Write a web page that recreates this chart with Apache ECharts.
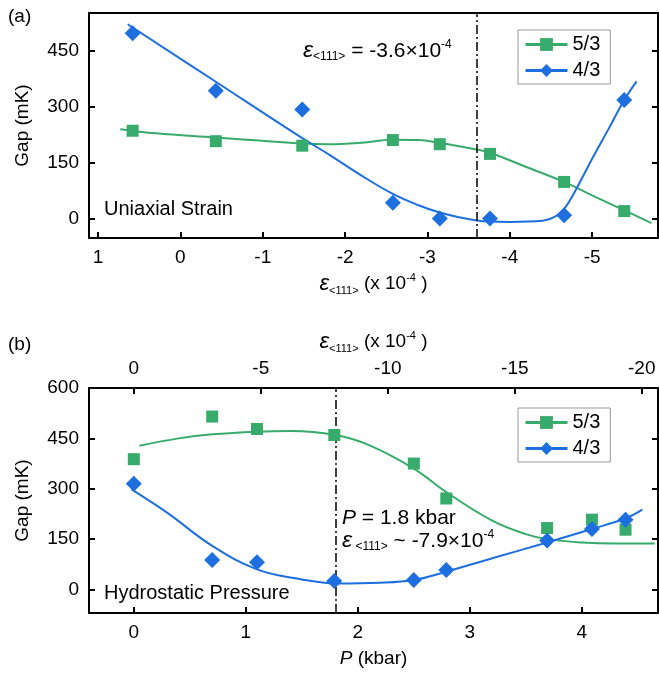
<!DOCTYPE html>
<html><head><meta charset="utf-8">
<script src="https://cdn.jsdelivr.net/npm/echarts@6/dist/echarts.min.js"></script>
<style>html,body{margin:0;padding:0;background:#fff}#c{width:659px;height:673px}</style>
</head><body><div id="c"></div>
<script>
// ---------- Panel (a): uniaxial strain ----------
const strainA = [0.58, -0.43, -1.48, -2.58, -3.15, -3.76, -4.66, -5.39];
const gap53A = [235, 207, 195, 210, 199, 173, 98, 20];
const gap43A = [496, 342, 292, 42, 0, 0, 9, 317];
const fit53AX = [0.73, 0.3, -0.43, -1.0, -1.48, -1.8, -2.2, -2.58, -2.9, -3.15, -3.4, -3.6, -3.76, -4.2, -4.66, -5.0, -5.39, -5.72];
const fit53AY = [239, 228, 217, 208, 201, 199, 203, 211, 210, 202, 193, 185, 176, 138, 98, 62, 22, -12];
const fit43AX = [0.64, -0.43, -1.48, -1.8, -2.2, -2.58, -2.9, -3.15, -3.4, -3.6, -3.76, -4.0, -4.4, -4.55, -4.66, -4.8, -5.0, -5.2, -5.39, -5.54];
const fit43AY = [520, 366, 215, 172, 115, 66, 35, 16, 3, -5, -8, -9, -6, 5, 26, 76, 160, 240, 317, 367];
const strainTicks = [1, 0, -1, -2, -3, -4, -5];
const gapTicksA = [0, 150, 300, 450];
const strainMarker = -3.6;

// ---------- Panel (b): hydrostatic pressure ----------
const pressureB = [0, 0.70, 1.10, 1.79, 2.50, 2.79, 3.69, 4.09, 4.39];
const gap53B = [388, 515, 478, 460, 375, 271, 183, 208, 178];
const gap43B = [315, 88, 81, 25, 28, 58, 146, 180, 208];
const fit53BX = [0.05, 0.4, 0.7, 1.1, 1.4, 1.8, 2.1, 2.5, 2.79, 3.2, 3.5, 3.69, 4.0, 4.3, 4.65];
const fit53BY = [428, 450, 462, 470, 472, 460, 430, 360, 290, 205, 165, 150, 140, 137, 137];
const fit43BX = [-0.02, 0.3, 0.7, 1.1, 1.5, 1.8, 2.2, 2.5, 2.79, 3.2, 3.69, 4.09, 4.39, 4.54];
const fit43BY = [298, 228, 130, 60, 30, 18, 20, 28, 53, 93, 140, 180, 212, 238];
const pressureTicks = [0, 1, 2, 3, 4];
const epsTicksB = [0, -5, -10, -15, -20];
const gapTicksB = [0, 150, 300, 450, 600];
const pressureMarker = 1.8;
const epsPerKbar = -4.41;

const GREEN = '#37ab6b';
const BLUE = '#1d6fdf';
const FONT = 'Liberation Sans';
const zip = (a, b) => a.map((v, i) => [v, b[i]]);

const pMin = -0.4, pMax = 4.68;

// rich styles for axis names (ECharts label styles)
const richAxis = {
  e: { fontSize: 22, fontStyle: 'italic', fontFamily: FONT, color: '#000', lineHeight: 24 },
  sub: { fontSize: 11, fontFamily: FONT, color: '#000', lineHeight: 11, verticalAlign: 'bottom' },
  t: { fontSize: 19, fontFamily: FONT, color: '#000', lineHeight: 24 },
  sup: { fontSize: 11, fontFamily: FONT, color: '#000', lineHeight: 11, verticalAlign: 'top' },
  p: { fontSize: 19, fontStyle: 'italic', fontFamily: FONT, color: '#000', lineHeight: 24 }
};
// rich styles for graphic texts (zrender styles use font strings)
const richG = {
  e: { font: 'italic 23px "Liberation Sans"', fill: '#000', lineHeight: 24 },
  sub: { font: '12px "Liberation Sans"', fill: '#000', lineHeight: 11, verticalAlign: 'bottom' },
  t: { font: '21px "Liberation Sans"', fill: '#000', lineHeight: 24 },
  sup: { font: '12px "Liberation Sans"', fill: '#000', lineHeight: 12, verticalAlign: 'top' },
  p: { font: 'italic 21px "Liberation Sans"', fill: '#000', lineHeight: 24 }
};
const epsName = '{e|ε}{sub|<111>}{t| (x 10}{sup|-4}{t| )}';

function frameAxis(extra) {
  return Object.assign({
    type: 'value',
    axisLine: { show: true, onZero: false, lineStyle: { color: '#000', width: 2 } },
    axisTick: { show: false },
    axisLabel: { show: false },
    splitLine: { show: false }
  }, extra);
}
function tickAxis(ticks, showLabels, extra) {
  return Object.assign({
    type: 'value',
    axisLine: { show: true, onZero: false, lineStyle: { color: '#000', width: 2 } },
    axisTick: { show: true, inside: true, length: 6, lineStyle: { color: '#000', width: 2 }, customValues: ticks },
    axisLabel: { show: showLabels, customValues: ticks, fontFamily: FONT, fontSize: 19, color: '#000', margin: 10 },
    splitLine: { show: false }
  }, extra);
}

const legendBase = {
  data: ['5/3', '4/3'], orient: 'vertical', left: 518, itemWidth: 42, itemHeight: 16, itemGap: 5,
  padding: [4, 10, 3, 6], borderColor: '#999', borderWidth: 1, backgroundColor: '#fff',
  lineStyle: { width: 3 },
  textStyle: { fontFamily: FONT, fontSize: 20, color: '#000', lineHeight: 21 }, selectedMode: false
};

const option = {
  animation: false,
  backgroundColor: '#fff',
  grid: [
    { left: 89, right: 1, top: 13, bottom: 435 },
    { left: 89, right: 1, top: 388, bottom: 60 }
  ],
  xAxis: [
    tickAxis(strainTicks, true, { gridIndex: 0, position: 'bottom', inverse: true, min: -5.8, max: 1.11,
      name: epsName, nameLocation: 'middle', nameGap: 34, nameTextStyle: { rich: richAxis } }),
    frameAxis({ gridIndex: 0, position: 'top', inverse: true, min: -5.8, max: 1.11 }),
    tickAxis(pressureTicks, true, { gridIndex: 1, position: 'bottom', min: pMin, max: pMax,
      name: '{p|P}{t| (kbar)}', nameLocation: 'middle', nameGap: 34, nameTextStyle: { rich: richAxis } }),
    tickAxis(epsTicksB, true, { gridIndex: 1, position: 'top', inverse: true,
      min: pMax * epsPerKbar, max: pMin * epsPerKbar,
      name: epsName, nameLocation: 'middle', nameGap: 34, nameTextStyle: { rich: richAxis } })
  ],
  yAxis: [
    tickAxis(gapTicksA, true, { gridIndex: 0, position: 'left', min: -52, max: 550,
      name: 'Gap (mK)', nameLocation: 'middle', nameGap: 57,
      nameTextStyle: { fontFamily: FONT, fontSize: 19, color: '#000' } }),
    tickAxis(gapTicksA, false, { gridIndex: 0, position: 'right', min: -52, max: 550 }),
    tickAxis(gapTicksB, true, { gridIndex: 1, position: 'left', min: -70, max: 600,
      name: 'Gap (mK)', nameLocation: 'middle', nameGap: 57,
      nameTextStyle: { fontFamily: FONT, fontSize: 19, color: '#000' } }),
    tickAxis(gapTicksB, false, { gridIndex: 1, position: 'right', min: -70, max: 600 })
  ],
  legend: [
    Object.assign({ top: 30 }, legendBase),
    Object.assign({ top: 408 }, legendBase)
  ],
  series: [
    { name: '5/3', type: 'line', xAxisIndex: 0, yAxisIndex: 0, data: zip(fit53AX, fit53AY), smooth: 0.4,
      showSymbol: false, symbol: 'rect', symbolSize: 12, lineStyle: { color: GREEN, width: 2 }, itemStyle: { color: GREEN },
      markLine: { silent: true, symbol: 'none', label: { show: false },
        lineStyle: { color: '#000', width: 1.5, type: [9, 3, 2, 3] }, data: [{ xAxis: strainMarker }] } },
    { name: '4/3', type: 'line', xAxisIndex: 0, yAxisIndex: 0, data: zip(fit43AX, fit43AY), smooth: 0.4,
      showSymbol: false, symbol: 'diamond', symbolSize: 16, lineStyle: { color: BLUE, width: 2 }, itemStyle: { color: BLUE } },
    { name: '5/3', type: 'scatter', xAxisIndex: 0, yAxisIndex: 0, data: zip(strainA, gap53A),
      symbol: 'rect', symbolSize: 12, itemStyle: { color: GREEN, opacity: 1 }, z: 5 },
    { name: '4/3', type: 'scatter', xAxisIndex: 0, yAxisIndex: 0, data: zip(strainA, gap43A),
      symbol: 'diamond', symbolSize: 16, itemStyle: { color: BLUE, opacity: 1 }, z: 5 },

    { name: '5/3', type: 'line', xAxisIndex: 2, yAxisIndex: 2, data: zip(fit53BX, fit53BY), smooth: 0.4,
      showSymbol: false, symbol: 'rect', symbolSize: 12, lineStyle: { color: GREEN, width: 2 }, itemStyle: { color: GREEN },
      markLine: { silent: true, symbol: 'none', label: { show: false },
        lineStyle: { color: '#000', width: 1.5, type: [9, 3, 2, 3] }, data: [{ xAxis: pressureMarker }] } },
    { name: '4/3', type: 'line', xAxisIndex: 2, yAxisIndex: 2, data: zip(fit43BX, fit43BY), smooth: 0.4,
      showSymbol: false, symbol: 'diamond', symbolSize: 16, lineStyle: { color: BLUE, width: 2 }, itemStyle: { color: BLUE } },
    { name: '5/3', type: 'scatter', xAxisIndex: 2, yAxisIndex: 2, data: zip(pressureB, gap53B),
      symbol: 'rect', symbolSize: 12, itemStyle: { color: GREEN, opacity: 1 }, z: 5 },
    { name: '4/3', type: 'scatter', xAxisIndex: 2, yAxisIndex: 2, data: zip(pressureB, gap43B),
      symbol: 'diamond', symbolSize: 16, itemStyle: { color: BLUE, opacity: 1 }, z: 5 }
  ],
  graphic: [
    { type: 'text', x: 8, y: 17, style: { text: '(a)', font: '19px "Liberation Sans"', fill: '#000', textVerticalAlign: 'middle' } },
    { type: 'text', x: 8, y: 345, style: { text: '(b)', font: '19px "Liberation Sans"', fill: '#000', textVerticalAlign: 'middle' } },
    { type: 'text', x: 104, y: 209, style: { text: 'Uniaxial Strain', font: '20px "Liberation Sans"', fill: '#000', textVerticalAlign: 'middle' } },
    { type: 'text', x: 104, y: 593, style: { text: 'Hydrostatic Pressure', font: '20px "Liberation Sans"', fill: '#000', textVerticalAlign: 'middle' } },
    { type: 'text', x: 303, y: 51, style: { text: '{e|ε}{sub|<111>}{t| = -3.6×10}{sup|-4}', rich: richG, textVerticalAlign: 'middle' } },
    { type: 'text', x: 342, y: 518, style: { text: '{p|P}{t| = 1.8 kbar}', rich: richG, textVerticalAlign: 'middle' } },
    { type: 'text', x: 342, y: 541, style: { text: '{e|ε}{sub| <111>}{t| ~ -7.9×10}{sup|-4}', rich: richG, textVerticalAlign: 'middle' } }
  ]
};

const chart = echarts.init(document.getElementById('c'), null, { renderer: 'canvas' });
chart.setOption(option);
</script>
</body></html>
